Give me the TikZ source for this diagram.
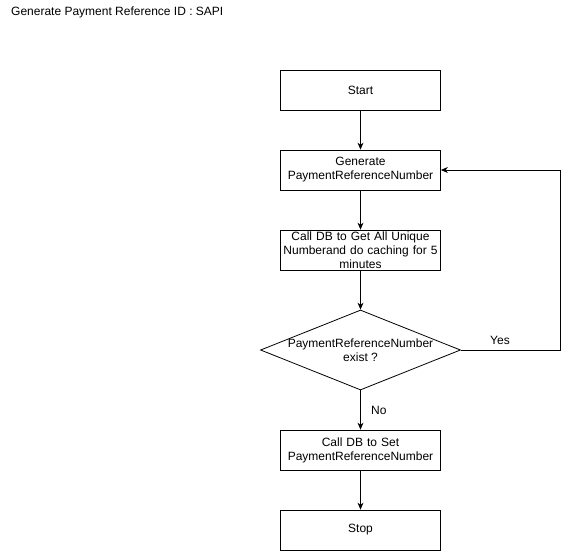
\documentclass[tikz,border=0pt]{standalone}
\usepackage{fontspec}
\setmainfont{Liberation Sans}
\usetikzlibrary{arrows.meta,shapes.geometric}
\begin{document}
\begin{tikzpicture}
        [x=1pt,y=-1pt,font=\fontsize{12}{14}\selectfont,
         every node/.style={align=center},
         box/.style={draw,thick,minimum width=160pt,minimum height=40pt,inner sep=1pt,text width=158pt},
         decision/.style={draw,diamond,thick,minimum width=200pt,minimum height=80pt,aspect=2.5,inner sep=0pt},
         flow/.style={thick,-{Stealth[length=7pt,width=6pt]}}]
        \useasboundingbox (0,0) rectangle (569,551);
        \node[anchor=west,inner sep=0pt] (title) at (11,12) {Generate Payment Reference ID : SAPI};
        \node[box] (start) at (360.5,90)  {Start};
        \node[box] (gen)   at (360.5,170) {Generate\\PaymentReferenceNumber};
        \node[box] (getdb) at (360.5,250) {Call DB to Get All Unique\\Numberand do caching for 5\\minutes};
        \node[decision] (exist) at (360.5,350) {};
        \node (existtext) at (360.5,350) {PaymentReferenceNumber\\exist ?};
        \node[box] (setdb) at (360.5,450) {Call DB to Set\\PaymentReferenceNumber};
        \node[box] (stop)  at (360.5,530) {Stop};
        \coordinate (corner1) at (560,350);
        \coordinate (corner2) at (560,170);
        \foreach \from/\to in {start/gen,gen/getdb,getdb/exist,setdb/stop}
          \draw[flow] (\from) -- (\to);
        \draw[flow] (exist) -- node[anchor=west,pos=.5,xshift=7pt] (no) {No} (setdb);
        \draw[flow] (exist.east) -- (corner1) -- (corner2) -- (gen.east);
        \node (yes) at (500,340) {Yes};
\end{tikzpicture}
\end{document}
